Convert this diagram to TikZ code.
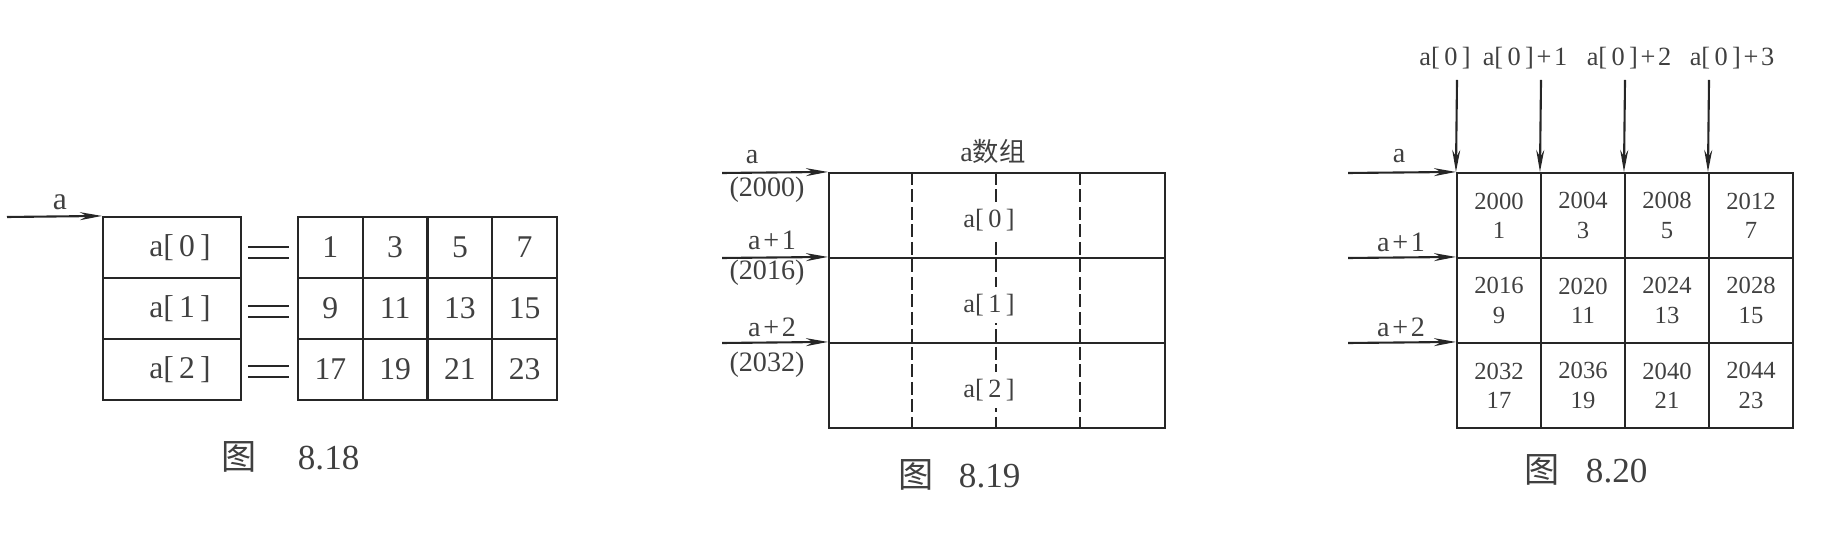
\documentclass[tikz,border=0pt]{standalone}
\usepackage{fontspec}
\setmainfont{Liberation Serif}
\newfontfamily\cjk{Noto Sans CJK SC}
\usetikzlibrary{arrows.meta}
\newcommand{\el}[1]{a[\,#1\,]}
\newcommand{\pl}{\kern0.1em+\kern0.1em}

\begin{document}
\begin{tikzpicture}[x=0.1mm,y=-0.1mm,semithick,color=black!85,text=black!75,
	>={Stealth[length=2.2mm,width=0.8mm]}]
	\useasboundingbox (0,0) rectangle (1844,543);
	
	% 8.18
	\begin{scope}[font=\fontsize{9}{10}\selectfont]
	\begin{scope}[every node/.style={draw,rectangle,inner sep=0pt,minimum width=13.8mm,minimum height=6.1mm}]
	\node (L0) at (172,247.5) {\hspace*{1.6mm}\el{0}};
	\node (L1) at (172,308.5) {\hspace*{1.6mm}\el{1}};
	\node (L2) at (172,369.5) {\hspace*{1.6mm}\el{2}};
	\end{scope}
	\begin{scope}[every node/.style={draw,rectangle,inner sep=0pt,minimum width=6.47mm,minimum height=6.1mm}]
	\node (G00) at (330.4,247.5) {1};
	\node (G01) at (395.1,247.5) {3};
	\node (G02) at (459.9,247.5) {5};
	\node (G03) at (524.6,247.5) {7};
	\node (G10) at (330.4,308.5) {9};
	\node (G11) at (395.1,308.5) {11};
	\node (G12) at (459.9,308.5) {13};
	\node (G13) at (524.6,308.5) {15};
	\node (G20) at (330.4,369.5) {17};
	\node (G21) at (395.1,369.5) {19};
	\node (G22) at (459.9,369.5) {21};
	\node (G23) at (524.6,369.5) {23};
	\end{scope}
	
	\coordinate (S0) at (7,217);
	\node (Sa) at (60,202) {a};
	\draw [->] (S0) -- (L0.north west);
	
	\draw [line width=0.8pt,double,double distance=0.82mm] ([xshift=0.6mm,yshift=-0.5mm]L0.east) -- ([xshift=-0.8mm,yshift=-0.5mm]G00.west);
	\draw [line width=0.8pt,double,double distance=0.82mm] ([xshift=0.6mm,yshift=-0.3mm]L1.east) -- ([xshift=-0.8mm,yshift=-0.3mm]G10.west);
	\draw [line width=0.8pt,double,double distance=0.82mm] ([xshift=0.6mm,yshift=-0.2mm]L2.east) -- ([xshift=-0.8mm,yshift=-0.2mm]G20.west);
	\end{scope}
	\node [anchor=west] (cap1) at (209,457) {{\cjk 图}\hspace{4.1mm}8.18};
	
	% 8.19
	\begin{scope}[font=\fontsize{8}{9}\selectfont]
	\begin{scope}[every node/.style={draw,rectangle,inner sep=0pt,minimum width=33.6mm,minimum height=8.5mm}]
	\node (M0) at (997,215.5) {};
	\node (M1) at (997,300.5) {};
	\node (M2) at (997,385.5) {};
	\end{scope}
	\draw [dash pattern=on 1.3mm off 0.45mm] ([xshift=8.4mm]M0.north west) -- ([xshift=8.4mm]M2.south west);
	\draw [dash pattern=on 1.3mm off 0.45mm] ([xshift=16.8mm]M0.north west) -- ([xshift=16.8mm]M2.south west);
	\draw [dash pattern=on 1.3mm off 0.45mm] ([xshift=25.2mm]M0.north west) -- ([xshift=25.2mm]M2.south west);
	
	\begin{scope}[every node/.style={fill=white,inner sep=2pt,font=\fontsize{7.5}{9}\selectfont}]
	\node (E0) at (989,220) {\el{0}};
	\node (E1) at (989,305) {\el{1}};
	\node (E2) at (989,390) {\el{2}};
	\end{scope}
	\node (arr) at (993,152) {a{\cjk\fontsize{7.5}{9}\selectfont 数组}};
	
	\coordinate (P0) at (722,173);
	\coordinate (P1) at (722,258);
	\coordinate (P2) at (722,343);
	\draw [->] (P0) -- (M0.north west);
	\draw [->] (P1) -- (M1.north west);
	\draw [->] (P2) -- (M2.north west);
	
	\node (Pa0) at (752,157) {a};
	\node (Pd0) at (767,190) {(2000)};
	\node (Pa1) at (772,240) {a\pl 1};
	\node (Pd1) at (767,273) {(2016)};
	\node (Pa2) at (772,327) {a\pl 2};
	\node (Pd2) at (767,365) {(2032)};
	\end{scope}
	\node [anchor=west] (cap2) at (886,475) {{\cjk 图}\hspace{2.5mm}8.19};
	
	% 8.20
	\begin{scope}[font=\fontsize{8}{9}\selectfont]
	\begin{scope}[every node/.style={draw,rectangle,inner sep=0pt,align=center,minimum width=8.4mm,minimum height=8.5mm,font=\fontsize{7}{8.3}\selectfont}]
	\node (D00) at (1499,215.5) {2000\\1};
	\node (D01) at (1583,215.5) {2004\\3};
	\node (D02) at (1667,215.5) {2008\\5};
	\node (D03) at (1751,215.5) {2012\\7};
	\node (D10) at (1499,300.5) {2016\\9};
	\node (D11) at (1583,300.5) {2020\\11};
	\node (D12) at (1667,300.5) {2024\\13};
	\node (D13) at (1751,300.5) {2028\\15};
	\node (D20) at (1499,385.5) {2032\\17};
	\node (D21) at (1583,385.5) {2036\\19};
	\node (D22) at (1667,385.5) {2040\\21};
	\node (D23) at (1751,385.5) {2044\\23};
	\end{scope}
	
	\begin{scope}[every node/.style={font=\fontsize{7.5}{9}\selectfont}]
	\node (T0) at (1445,58) {\el{0}};
	\node (T1) at (1525,58) {\el{0}\pl 1};
	\node (T2) at (1629,58) {\el{0}\pl 2};
	\node (T3) at (1732,58) {\el{0}\pl 3};
	\end{scope}
	\coordinate (U0) at (1457,80);
	\coordinate (U1) at (1541,80);
	\coordinate (U2) at (1625,80);
	\coordinate (U3) at (1709,80);
	\draw [->] (U0) -- (D00.north west);
	\draw [->] (U1) -- (D01.north west);
	\draw [->] (U2) -- (D02.north west);
	\draw [->] (U3) -- (D03.north west);
	
	\coordinate (Q0) at (1348,173);
	\coordinate (Q1) at (1348,258);
	\coordinate (Q2) at (1348,343);
	\draw [->] (Q0) -- (D00.north west);
	\draw [->] (Q1) -- (D10.north west);
	\draw [->] (Q2) -- (D20.north west);
	\node (Qa0) at (1399,156) {a};
	\node (Qa1) at (1401,242) {a\pl 1};
	\node (Qa2) at (1401,327) {a\pl 2};
	\end{scope}
	\node [anchor=west] (cap3) at (1512,470) {{\cjk 图}\hspace{2.6mm}8.20};
\end{tikzpicture}
\end{document}
